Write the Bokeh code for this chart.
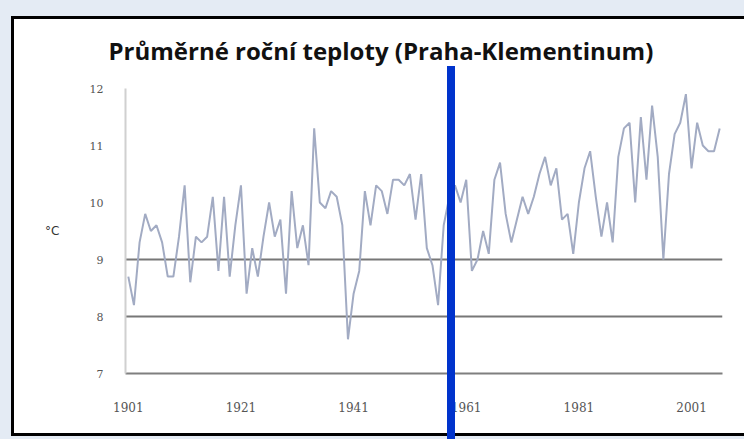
from bokeh.plotting import figure
from bokeh.models import Range1d, InlineStyleSheet
from bokeh.embed import file_html
from bokeh.resources import INLINE

# ---- data ----
years = list(range(1901, 2007))
temps = [
    8.7, 8.2, 9.3, 9.8, 9.5, 9.6, 9.3, 8.7, 8.7, 9.4,      # 1901-1910
    10.3, 8.6, 9.4, 9.3, 9.4, 10.1, 8.8, 10.1, 8.7, 9.6,   # 1911-1920
    10.3, 8.4, 9.2, 8.7, 9.4, 10.0, 9.4, 9.7, 8.4, 10.2,   # 1921-1930
    9.2, 9.6, 8.9, 11.3, 10.0, 9.9, 10.2, 10.1, 9.6, 7.6,  # 1931-1940
    8.4, 8.8, 10.2, 9.6, 10.3, 10.2, 9.8, 10.4, 10.4, 10.3,  # 1941-1950
    10.5, 9.7, 10.5, 9.2, 8.9, 8.2, 9.6, 10.1, 10.3, 10.0,   # 1951-1960
    10.4, 8.8, 9.0, 9.5, 9.1, 10.4, 10.7, 9.8, 9.3, 9.7,     # 1961-1970
    10.1, 9.8, 10.1, 10.5, 10.8, 10.3, 10.6, 9.7, 9.8, 9.1,  # 1971-1980
    10.0, 10.6, 10.9, 10.1, 9.4, 10.0, 9.3, 10.8, 11.3, 11.4,  # 1981-1990
    10.0, 11.5, 10.4, 11.7, 10.8, 9.0, 10.5, 11.2, 11.4, 11.9,  # 1991-2000
    10.6, 11.4, 11.0, 10.9, 10.9, 11.3,                         # 2001-2006
]
x_ticks = [1901, 1921, 1941, 1961, 1981, 2001]
y_ticks = [7, 8, 9, 10, 11, 12]
grid_levels = [8, 9]
title_text = "Průměrné roční teploty (Praha-Klementinum)"
y_label = "°C"
marker_year = 1958.4

# ---- geometry ----
W, H = 744, 439
BL, BR, BT, BB = 125, 22, 88, 66
x0, x1 = 1900.5, 2006.5
frame_w = W - BL - BR

p = figure(width=W, height=H, output_backend="svg", toolbar_location=None,
           x_range=Range1d(x0, x1), y_range=Range1d(7, 12),
           min_border_left=BL, min_border_right=BR,
           min_border_top=BT, min_border_bottom=BB)
p.border_fill_color = "white"
p.background_fill_color = "white"
p.outline_line_color = None

# title
p.title.text = title_text
p.title.align = "left"
p.title.offset = -17
p.title.standoff = 43
p.title.text_font = "Open Sans"
p.title.text_font_style = "bold"
p.title.text_font_size = "24px"
p.title.text_color = "#111111"

# axes
p.xaxis.ticker = x_ticks
p.yaxis.ticker = y_ticks
p.xaxis.axis_line_color = "#7f7f7f"
p.xaxis.axis_line_width = 2
p.yaxis.axis_line_color = "#d0d0d0"
p.yaxis.axis_line_width = 2
for ax in (p.xaxis[0], p.yaxis[0]):
    ax.major_tick_line_color = None
    ax.minor_tick_line_color = None
    ax.major_tick_out = 0
    ax.major_label_text_color = "#555555"
    ax.major_label_text_font = "DejaVu Serif"
p.xaxis.major_label_text_font_size = "12px"
p.yaxis.major_label_text_font_size = "11px"
p.xaxis.major_label_standoff = 28
p.yaxis.major_label_standoff = 22
p.yaxis.axis_label = y_label
p.yaxis.axis_label_orientation = "horizontal"
p.yaxis.axis_label_standoff = 27
p.yaxis.axis_label_text_font = "DejaVu Sans"
p.yaxis.axis_label_text_font_style = "normal"
p.yaxis.axis_label_text_font_size = "12px"
p.yaxis.axis_label_text_color = "#333333"

p.xgrid.visible = False
p.ygrid.ticker = grid_levels
p.ygrid.grid_line_color = "#777777"
p.ygrid.grid_line_width = 2

# data line
p.line(years, temps, line_color="#a2abc3", line_width=2)

# outer chart frame and blue marker line (position derived from marker_year)
mx = BL + (marker_year - x0) * frame_w / (x1 - x0)
css = f"""
:host {{ position: relative; overflow: hidden; }}
:host::after {{
  content: ""; position: absolute; left: 11px; top: 16px;
  width: {W - 11}px; height: 420px; box-sizing: border-box;
  border: 3px solid #000; border-right: none;
  box-shadow: 0 0 0 40px #e4ebf4;
  pointer-events: none; z-index: 1;
}}
:host::before {{
  content: ""; position: absolute; left: {mx - 4:.1f}px; top: 66px;
  width: 8px; height: {H - 66}px; background: #0033cc;
  pointer-events: none; z-index: 2;
}}
"""
p.stylesheets = [InlineStyleSheet(css=css)]

open("out.html", "w").write(file_html(p, INLINE))
